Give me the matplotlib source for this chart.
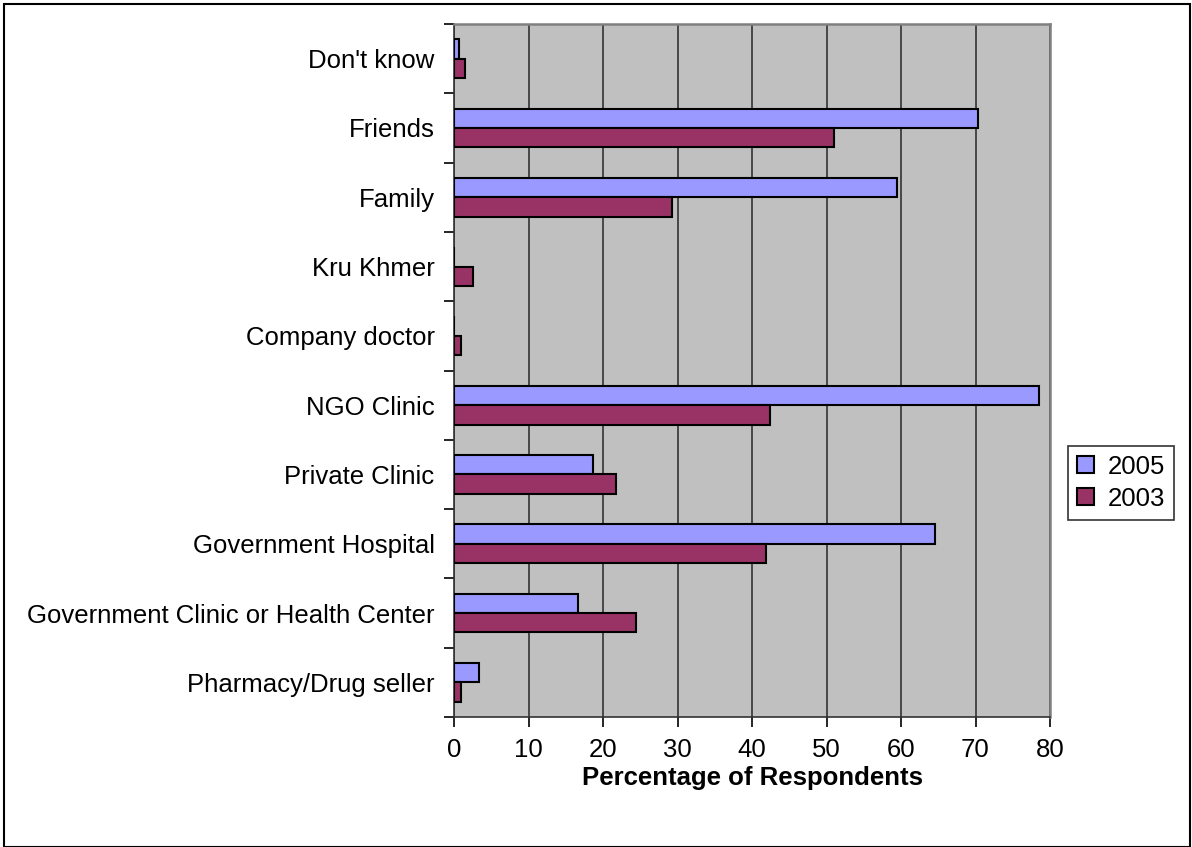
import numpy as np
import matplotlib
matplotlib.use("Agg")
import matplotlib.pyplot as plt
from matplotlib.patches import Rectangle

plt.rcParams["font.family"] = ["Liberation Sans", "DejaVu Sans"]

# categories listed bottom -> top
categories = ["Pharmacy/Drug seller", "Government Clinic or Health Center",
              "Government Hospital", "Private Clinic", "NGO Clinic",
              "Company doctor", "Kru Khmer", "Family", "Friends", "Don't know"]
vals_2005 = [3.4, 16.6, 64.5, 18.7, 78.5, 0.0, 0.0, 59.4, 70.4, 0.7]
vals_2003 = [1.0, 24.4, 41.9, 21.7, 42.4, 1.0, 2.6, 29.2, 51.0, 1.5]
xticks = [0, 10, 20, 30, 40, 50, 60, 70, 80]

C2005 = "#9999FF"
C2003 = "#993366"
FS = 18.5

fig = plt.figure(figsize=(11.92, 8.47), dpi=100)
ax = fig.add_axes([454 / 1192, 1 - 717 / 847, (1050 - 454) / 1192, (717 - 24) / 847])
ax.set_facecolor("#C0C0C0")

y = np.arange(len(categories))
h = 0.28
ax.barh(y + h / 2, vals_2005, height=h, color=C2005, edgecolor="black",
        lw=1.5, label="2005", zorder=3)
ax.barh(y - h / 2, vals_2003, height=h, color=C2003, edgecolor="black",
        lw=1.5, label="2003", zorder=3)

ax.set_xlim(0, 80)
ax.set_ylim(-0.5, len(categories) - 0.5)
ax.set_xticks(xticks)
ax.set_xticklabels([str(t) for t in xticks], fontsize=FS)
ax.set_yticks(y)
ax.set_yticklabels(categories, fontsize=FS)
ax.set_yticks(np.arange(-0.5, len(categories), 1.0), minor=True)
ax.tick_params(axis="y", which="major", length=0, pad=14)
ax.tick_params(axis="y", which="minor", length=7, width=1.2, direction="out")
ax.tick_params(axis="x", length=7, width=1.2, direction="out", pad=8)
ax.xaxis.grid(True, color="#333333", lw=1.2, zorder=1)
ax.set_axisbelow(True)

for s in ["top", "right"]:
    ax.spines[s].set_color("#808080")
    ax.spines[s].set_linewidth(1.8)
for s in ["left", "bottom"]:
    ax.spines[s].set_color("#333333")
    ax.spines[s].set_linewidth(1.2)

ax.set_xlabel("Percentage of Respondents", fontsize=FS, fontweight="bold", labelpad=3)

leg = ax.legend(loc="center left", bbox_to_anchor=(1.03, 0.338), fontsize=FS,
                frameon=True, fancybox=False, edgecolor="black",
                handlelength=0.65, handleheight=0.65, handletextpad=0.55,
                borderpad=0.35, labelspacing=0.3, borderaxespad=0)
leg.get_frame().set_linewidth(1.2)

fig.patches.append(Rectangle((4 / 1192, 0), 1186 / 1192, 1 - 4 / 847,
                             transform=fig.transFigure, fill=False,
                             edgecolor="black", lw=1.5))

fig.savefig("out.png", dpi=100, facecolor="white")
